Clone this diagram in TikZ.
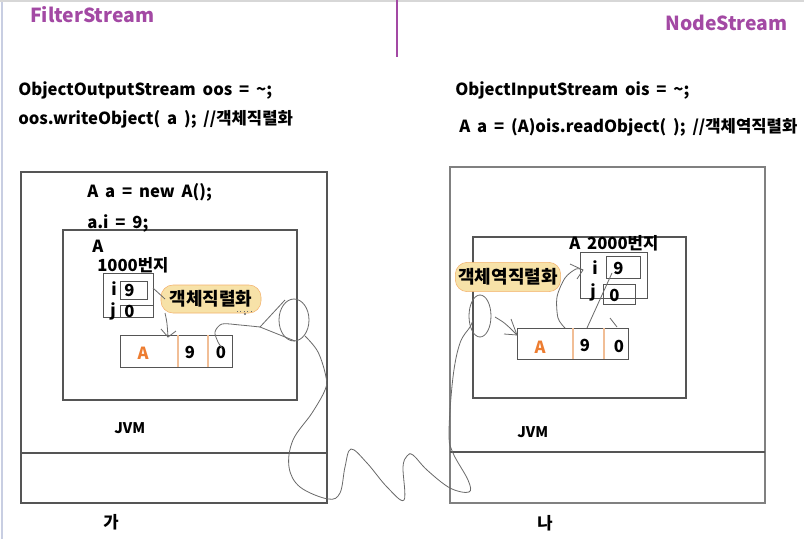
\documentclass[tikz,border=0pt]{standalone}
\usepackage{fontspec}
\setmainfont{Noto Sans CJK KR}[WordSpace=1.8]
\usetikzlibrary{positioning}

\definecolor{titlepurple}{RGB}{163,73,164}
\definecolor{fieldorange}{RGB}{237,125,49}
\definecolor{calloutfill}{RGB}{247,226,168}
\definecolor{calloutline}{RGB}{244,178,110}
\definecolor{dividerline}{RGB}{241,190,150}
\definecolor{boxgray}{RGB}{85,85,85}
\definecolor{penline}{RGB}{105,105,105}

\begin{document}
\begin{tikzpicture}[x=0.75pt,y=0.75pt,yscale=-1,xscale=1,
  code/.style={anchor=west,inner sep=0pt,font=\bfseries\fontsize{12.5}{14}\selectfont},
  title/.style={inner sep=0pt,text=titlepurple,font=\bfseries\fontsize{14.5}{16}\selectfont},
  small/.style={anchor=west,inner sep=0pt,font=\bfseries\fontsize{12.5}{14}\selectfont},
  jvm/.style={anchor=west,inner sep=0pt,font=\bfseries\fontsize{11}{13}\selectfont},
  callout/.style={draw=calloutline,fill=calloutfill,rounded corners=9pt,inner sep=0pt,
    font=\bfseries\fontsize{13.5}{15}\selectfont},
  frame/.style={draw=boxgray,line width=0.8pt},
  valbox/.style={draw=boxgray,line width=0.6pt},
  pen/.style={draw=penline,line width=0.6pt}]
\useasboundingbox (0,0) rectangle (804,539);
\fill[white] (0,0) rectangle (804,539);

% slide edges
\draw[color={rgb,255:red,200;green,206;blue,226},line width=1.5pt] (2,0) -- (2,539);
\draw[color={rgb,255:red,215;green,215;blue,215},line width=0.8pt] (0,1) -- (804,1);
\draw[titlepurple,line width=2pt] (397,0) -- (397,57);

% titles
\node[title,anchor=west] (filterTitle) at (30,15) {FilterStream};
\node[title,anchor=east] (nodeTitle) at (788,23) {NodeStream};

% code lines
\node[code] (oosDecl) at (18,90) {ObjectOutputStream oos = \textasciitilde;};
\node[code] (oosWrite) at (18,119) {oos.writeObject( a ); //객체직렬화};
\node[code] (oisDecl) at (455,90) {ObjectInputStream ois = \textasciitilde;};
\node[code] (oisRead) at (459,127) {A a = (A)ois.readObject( ); //객체역직렬화};

%%% left JVM
\draw[frame] (21,172) rectangle (327,503);
\draw[frame] (21,453) -- (327,453);
\draw[frame] (63,230) rectangle (297,400);
\node[small] (newA) at (87,192) {A a = new A();};
\node[small] (setI) at (87,223) {a.i = 9;};
\node[small] (leftType) at (92,246) {A};
\node[small] (leftAddr) at (97,265) {1000번지};

\draw[valbox] (103,273) rectangle (153,317);
\draw[valbox] (120,281) rectangle (147,299);
\draw[valbox] (120,305) rectangle (153,317);
\node[small] (leftI) at (111,289) {i};
\node[small] (leftIval) at (124,290) {9};
\node[small] (leftJ) at (110,311) {j};
\node[small] (leftJval) at (124,311) {0};

\node[callout,minimum width=75pt,minimum height=21pt] (serial) at (211,299) {객체직렬화};

% stream bytes (left)
\draw[valbox] (120,335) rectangle (232,367);
\draw[dividerline,line width=0.8pt] (178,335) -- (178,367);
\draw[dividerline,line width=0.8pt] (208,335) -- (208,367);
\node[small,anchor=center,text=fieldorange] (leftRowA) at (143,353) {A};
\node[small,anchor=center] (leftRow9) at (190,352) {9};
\node[small,anchor=center] (leftRow0) at (221,352) {0};

\node[jvm] (leftJvm) at (114,428) {JVM};
\node[small,anchor=center] (ga) at (111,522) {가};

% hand marks (left)
\coordinate (leftTip) at (168,337);
\draw[pen] (153,288) -- (165,299);
\draw[pen] (165,313) .. controls (167,322) .. (leftTip);
\draw[pen] (161,329) -- (leftTip) -- (176,331);
\draw[pen,dotted] (237,311) -- (253,311);
\fill[penline] (245,314) circle (1.2);
\draw[pen] (294,320) ellipse (15 and 21);
\coordinate (leftCone) at (260,327);
\draw[pen] (285,300) -- (leftCone) -- (295,341);
\draw[pen] plot[smooth] coordinates {(leftCone) (240,325) (222,324) (215,332) (218,342) (222,348)};

%%% right JVM
\draw[frame,draw=gray] (450,167) rectangle (765,503);
\draw[frame] (450,452) -- (765,452);
\draw[frame] (473,237) rectangle (686,398);
\node[small] (rightAddr) at (569,243) {A 2000번지};

\draw[valbox] (580,252) rectangle (647,298);
\draw[valbox] (606,256) rectangle (640,278);
\draw[valbox] (603,284) rectangle (635,304);
\node[small] (rightI) at (592,268) {i};
\node[small] (rightIval) at (613,268) {9};
\node[small] (rightJ) at (590,292) {j};
\node[small] (rightJval) at (609,295) {0};

\node[callout,minimum width=79pt,minimum height=22pt] (deserial) at (508,277) {객체역직렬화};

% stream bytes (right)
\draw[valbox] (517,328) rectangle (628,359);
\draw[dividerline,line width=0.8pt] (573,328) -- (573,359);
\draw[dividerline,line width=0.8pt] (604,328) -- (604,359);
\node[small,anchor=center,text=fieldorange] (rightRowA) at (540,347) {A};
\node[small,anchor=center] (rightRow9) at (585,345) {9};
\node[small,anchor=center] (rightRow0) at (619,346) {0};

\node[jvm] (rightJvm) at (517,432) {JVM};
\node[small,anchor=center] (na) at (545,523) {나};

% hand marks (right)
\coordinate (rightTip) at (517,335);
\coordinate (fieldTip) at (583,270);
\draw[pen] plot[smooth] coordinates {(495,317) (503,322) (510,328) (rightTip)};
\draw[pen] (504,334) -- (rightTip) -- (511,319);
\draw[pen] plot[smooth] coordinates {(565,328) (558,318) (557,297) (565,278) (576,269) (fieldTip)};
\draw[pen] (570,264) -- (fieldTip) -- (577,279);
\draw[pen] (587,328) -- (612,273);
\draw[pen] (610,318) -- (617,327);
\draw[pen] (480,316) ellipse (11 and 21);

% the wire between the two JVMs
\draw[pen] plot[smooth,tension=0.6] coordinates {
  (305,336) (318,352) (326,377) (325,390) (312,413) (293,440) (289,467) (300,487)
  (328,499) (340,493) (345,467) (351,449) (367,463) (387,487) (404,500) (403,467)
  (407,456) (413,455) (427,470) (450,488) (469,492) (468,480) (453,453) (449,433)
  (453,377) (460,343) (470,327) (473,320)};

\end{tikzpicture}
\end{document}
